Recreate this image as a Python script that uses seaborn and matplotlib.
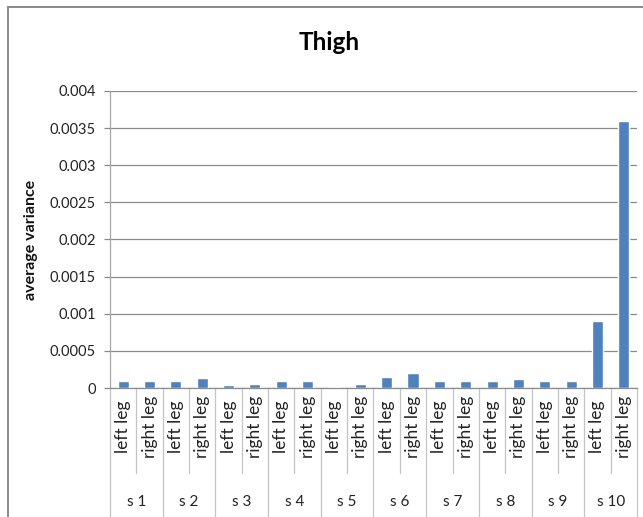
import matplotlib
matplotlib.use("Agg")
import matplotlib.pyplot as plt
import matplotlib.transforms as mtransforms
from matplotlib.lines import Line2D
from matplotlib.patches import Rectangle
import seaborn as sns
import pandas as pd

# Average variance of thigh sensor, per subject and leg
subjects = ["s 1", "s 2", "s 3", "s 4", "s 5", "s 6", "s 7", "s 8", "s 9", "s 10"]
legs = ["left leg", "right leg"]
left_leg = [0.00010, 0.00010, 0.000036, 0.00010, 0.000018, 0.000153, 0.00010, 0.00009, 0.00009, 0.0009]
right_leg = [0.00010, 0.00014, 0.00005, 0.00009, 0.00005, 0.00020, 0.00010, 0.000126, 0.00009, 0.0036]
y_ticks = [0, 0.0005, 0.001, 0.0015, 0.002, 0.0025, 0.003, 0.0035, 0.004]
y_tick_labels = ["0", "0.0005", "0.001", "0.0015", "0.002", "0.0025", "0.003", "0.0035", "0.004"]

rows = []
for s, lv, rv in zip(subjects, left_leg, right_leg):
    rows.append({"slot": f"{s}|{legs[0]}", "subject": s, "leg": legs[0], "value": lv})
    rows.append({"slot": f"{s}|{legs[1]}", "subject": s, "leg": legs[1], "value": rv})
df = pd.DataFrame(rows)

sns.set_theme(style="white")
plt.rcParams["font.family"] = ["Lato", "DejaVu Sans"]

W, H = 643, 517
fig = plt.figure(figsize=(W / 100, H / 100), dpi=100)
ax = fig.add_axes([110 / W, 1 - 388 / H, (637 - 110) / W, (388 - 91) / H])

sns.barplot(data=df, x="slot", y="value", order=list(df["slot"]), color="#4F81BD",
            width=0.42, saturation=1, ax=ax, errorbar=None)

ax.set_ylim(0, 0.004)
ax.set_xlim(-0.5, len(df) - 0.5)
ax.set_yticks(y_ticks)
ax.set_yticklabels(y_tick_labels, fontsize=10.5, color="#222222")
ax.set_xticks([])
ax.set_xlabel("")
ax.set_ylabel("average variance", fontsize=11.5, fontweight="bold", color="#111111")
ax.yaxis.set_label_coords((38 - 110) / (637 - 110), 0.5)
ax.tick_params(axis="y", length=4, width=0.9, color="#8a8a8a", pad=6, left=True)
ax.yaxis.grid(True, color="#8c8c8c", linewidth=0.9)
ax.set_axisbelow(True)
for side in ("top", "right"):
    ax.spines[side].set_visible(False)
ax.spines["left"].set_color("#a6a6a6")
ax.spines["bottom"].set_color("#8c8c8c")
ax.spines["left"].set_linewidth(0.9)
ax.spines["bottom"].set_linewidth(0.9)

# Chart title, centred over the whole chart frame
fig.text(329 / W, 1 - 43 / H, "Thigh", fontsize=17.5, fontweight="bold", color="#000000",
         ha="center", va="center")

# Two-level category axis: leg labels and subject labels with divider lines
trans = mtransforms.blended_transform_factory(ax.transData, ax.transAxes)
ax_h = 388 - 91
def ypos(px):
    return (388 - px) / ax_h

for i, leg in enumerate(df["leg"]):
    ax.text(i, ypos(427), leg, rotation=90, ha="center", va="center",
            fontsize=12.5, color="#222222", transform=trans, clip_on=False)

for k, s in enumerate(subjects):
    ax.text(2 * k + 0.5, ypos(502), s, ha="center", va="center",
            fontsize=11, color="#222222", transform=trans, clip_on=False)

divider_color = "#c4c4c4"
for k in range(len(subjects)):
    x_short = 2 * k + 0.5
    ax.add_line(Line2D([x_short, x_short], [0, ypos(473)], transform=trans,
                       color=divider_color, linewidth=0.9, clip_on=False))
for k in range(len(subjects) + 1):
    x_long = 2 * k - 0.5
    ax.add_line(Line2D([x_long, x_long], [0, ypos(530)], transform=trans,
                       color=divider_color, linewidth=0.9, clip_on=False))

# Chart frame
fig.patches.append(Rectangle((8 / W, -0.1), 1.2, 1 - 7 / H + 0.1, transform=fig.transFigure,
                             fill=False, edgecolor="#8a8a8a", linewidth=1.4))

fig.savefig("out.png", dpi=100)
